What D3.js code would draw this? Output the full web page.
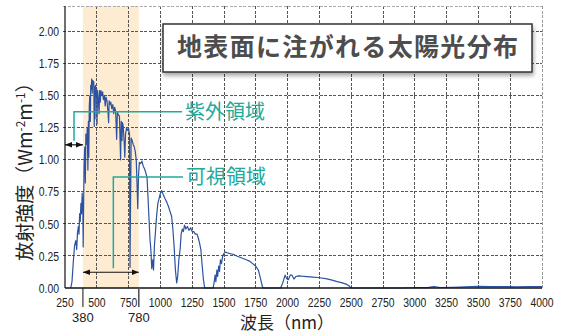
<!DOCTYPE html>
<html>
<head>
<meta charset="utf-8">
<script src="https://cdn.jsdelivr.net/npm/d3@7"></script>
<style>
  body { margin: 0; background: #fff; }
  svg { display: block; }
</style>
</head>
<body>
<svg id="chart" width="561" height="334"></svg>
<script>
// spectrum: [wavelength nm, W m-2 nm-1]
var spectrum = [
  [295, 0], [305, 0.05], [315, 0.2], [325, 0.33], [335, 0.37], [342, 0.3], [348, 0.43],
  [355, 0.48], [360, 0.42], [365, 0.58], [370, 0.52], [375, 0.66], [380, 0.58], [385, 0.74],
  [390, 0.62], [393, 0.32], [397, 0.72], [400, 0.96], [405, 1.1], [410, 0.82], [414, 1.2],
  [420, 1.12], [425, 1.25], [430, 0.92], [434, 1.3], [437, 1.02], [441, 1.42], [445, 1.5],
  [449, 1.3], [452, 1.58], [456, 1.55], [460, 1.63], [464, 1.52], [468, 1.62], [472, 1.58],
  [476, 1.61], [480, 1.26], [483, 1.57], [486, 1.32], [490, 1.58], [495, 1.52], [498, 1.56],
  [502, 1.28], [506, 1.54], [510, 1.5], [518, 1.36], [522, 1.54], [527, 1.45], [532, 1.54],
  [540, 1.5], [546, 1.53], [552, 1.47], [560, 1.5], [566, 1.42], [572, 1.49], [580, 1.46],
  [589, 1.36], [593, 1.29], [597, 1.46], [602, 1.43], [610, 1.45], [618, 1.4], [626, 1.43],
  [633, 1.36], [640, 1.41], [648, 1.38], [656, 1.16], [662, 1.37], [670, 1.35], [678, 1.34],
  [687, 1.0], [692, 1.3], [698, 1.15], [702, 1.29], [708, 1.26], [716, 1.12], [720, 1.02],
  [726, 1.2], [734, 1.25], [742, 1.23], [750, 1.24], [757, 1.2], [761, 0.16], [765, 0.62],
  [770, 1.17], [778, 1.15], [786, 1.12], [795, 1.1], [803, 1.06], [810, 1.0], [816, 0.82],
  [822, 0.62], [828, 0.88], [835, 0.98], [845, 0.97], [855, 0.99], [865, 0.95], [875, 0.93],
  [885, 0.9], [895, 0.86], [902, 0.72], [910, 0.55], [918, 0.38], [925, 0.3], [932, 0.15],
  [940, 0.22], [946, 0.14], [953, 0.33], [962, 0.45], [970, 0.56], [980, 0.66], [990, 0.7],
  [1000, 0.74], [1010, 0.76], [1022, 0.73], [1035, 0.7], [1050, 0.67], [1062, 0.64],
  [1075, 0.6], [1088, 0.56], [1098, 0.46], [1108, 0.32], [1118, 0.14], [1128, 0.04],
  [1136, 0.09], [1145, 0.22], [1155, 0.3], [1163, 0.42], [1172, 0.46], [1180, 0.44],
  [1190, 0.49], [1200, 0.46], [1212, 0.48], [1225, 0.45], [1238, 0.47], [1250, 0.44],
  [1262, 0.44], [1275, 0.42], [1288, 0.42], [1298, 0.39], [1308, 0.35], [1318, 0.3],
  [1328, 0.18], [1338, 0.07], [1348, 0], [1415, 0], [1423, 0.05], [1430, 0.1], [1436, 0.05],
  [1444, 0.14], [1450, 0.09], [1458, 0.17], [1465, 0.13], [1472, 0.22], [1480, 0.19],
  [1490, 0.25], [1500, 0.27], [1512, 0.28], [1525, 0.275], [1540, 0.27], [1560, 0.265],
  [1580, 0.26], [1600, 0.25], [1625, 0.24], [1650, 0.23], [1675, 0.22], [1700, 0.21],
  [1725, 0.19], [1750, 0.17], [1770, 0.14], [1788, 0.07], [1802, 0.01], [1810, 0],
  [1945, 0], [1962, 0.04], [1980, 0.1], [1995, 0.07], [2006, 0.065], [2020, 0.1],
  [2034, 0.1], [2050, 0.07], [2066, 0.09], [2085, 0.095], [2110, 0.092], [2150, 0.089],
  [2200, 0.085], [2250, 0.08], [2300, 0.073], [2350, 0.062], [2390, 0.05], [2430, 0.04],
  [2460, 0.03], [2480, 0.02], [2498, 0], [2900, 0], [2960, 0.002], [3020, 0.004],
  [3100, 0.003], [3150, 0.01], [3200, 0.004], [3300, 0.006], [3400, 0.009], [3500, 0.012],
  [3600, 0.01], [3700, 0.011], [3800, 0.009], [3900, 0.01], [4000, 0.01]
];

var xTicks = d3.range(250, 4001, 250);
var yTicks = [0, 0.25, 0.5, 0.75, 1.0, 1.25, 1.5, 1.75, 2.0];

// visible band edges as drawn, and the numbers printed under them
var bandEdges = [391, 830];
var bandLabels = ["380", "780"];

var title = "地表面に注がれる太陽光分布";
var uvLabel = "紫外領域";
var visLabel = "可視領域";

var svg = d3.select("#chart");
var plotL = 65, plotR = 542, plotT = 6, plotB = 288;

var x = d3.scaleLinear().domain([250, 4000]).range([plotL, plotR]);
var y = d3.scaleLinear().domain([0, 2.2]).range([plotB, plotT]);

var defs = svg.append("defs");
var shadow = defs.append("filter").attr("id", "shadow")
  .attr("x", "-10%").attr("y", "-20%").attr("width", "120%").attr("height", "160%");
shadow.append("feDropShadow").attr("dx", 1).attr("dy", 3)
  .attr("stdDeviation", 2).attr("flood-color", "#000").attr("flood-opacity", 0.35);

function arrowHead(id, orient) {
  defs.append("marker").attr("id", id)
    .attr("viewBox", "0 0 10 10").attr("refX", 10).attr("refY", 5)
    .attr("markerWidth", 7).attr("markerHeight", 7)
    .attr("orient", orient).attr("markerUnits", "userSpaceOnUse")
    .append("path").attr("d", "M0,1 L10,5 L0,9 Z").attr("fill", "#111");
}
arrowHead("ah", "auto");
arrowHead("ahs", "auto-start-reverse");

// visible band
svg.append("rect")
  .attr("x", x(bandEdges[0])).attr("y", plotT)
  .attr("width", x(bandEdges[1]) - x(bandEdges[0]))
  .attr("height", plotB - plotT)
  .attr("fill", "#fdebd2");

// grid
var grid = svg.append("g").attr("stroke", "#555").attr("stroke-width", 1)
  .attr("stroke-dasharray", "3,1.5").attr("shape-rendering", "crispEdges");
grid.selectAll("line.v").data(xTicks.slice(1)).enter().append("line")
  .attr("x1", d => x(d)).attr("x2", d => x(d))
  .attr("y1", plotT).attr("y2", plotB)
  .attr("stroke", d => d === 4000 ? "#999" : null);
grid.selectAll("line.h").data(yTicks.slice(1).concat([2.2])).enter().append("line")
  .attr("x1", plotL - 2).attr("x2", plotR)
  .attr("y1", d => y(d)).attr("y2", d => y(d))
  .attr("stroke", d => d === 2.2 ? "#aaa" : null)
  .attr("stroke-dasharray", d => d === 2.2 ? null : "3,1.5");

// spectrum
var line = d3.line().x(d => x(d[0])).y(d => y(d[1]));
svg.append("path").datum(spectrum)
  .attr("d", line)
  .attr("fill", "none")
  .attr("stroke", "#2c52a0")
  .attr("stroke-width", 1.2)
  .attr("stroke-linejoin", "round");

// axes
svg.append("line").attr("x1", plotL).attr("x2", plotL).attr("y1", plotT).attr("y2", plotB)
  .attr("stroke", "#111").attr("stroke-width", 1.2);
svg.append("line").attr("x1", plotL).attr("x2", plotR).attr("y1", plotB).attr("y2", plotB)
  .attr("stroke", "#111").attr("stroke-width", 1.5);

// tick labels: condensed look by squeezing horizontally
var tickFont = "'Liberation Sans', sans-serif";
svg.append("g").selectAll("text").data(xTicks).enter().append("text")
  .attr("transform", d => `translate(${x(d)},306.5) scale(0.8,1)`)
  .attr("text-anchor", "middle")
  .attr("font-family", tickFont).attr("font-size", 13).attr("fill", "#222")
  .text(d => d);
svg.append("g").selectAll("text").data(yTicks).enter().append("text")
  .attr("transform", d => `translate(59,${y(d) + 4.6}) scale(0.8,1)`)
  .attr("text-anchor", "end")
  .attr("font-family", tickFont).attr("font-size", 13).attr("fill", "#222")
  .text(d => d.toFixed(2));

// 380 / 780 markers
var marks = svg.append("g");
marks.selectAll("line").data(bandEdges).enter().append("line")
  .attr("x1", d => x(d)).attr("x2", d => x(d))
  .attr("y1", plotB).attr("y2", 307)
  .attr("stroke", (d, i) => i ? "#555" : "#111")
  .attr("stroke-width", (d, i) => i ? 1.6 : 1);
marks.selectAll("text").data(bandEdges).enter().append("text")
  .attr("x", d => x(d)).attr("y", 322)
  .attr("text-anchor", "middle")
  .attr("font-family", "'Liberation Sans', sans-serif").attr("font-size", 13)
  .attr("fill", "#222")
  .text((d, i) => bandLabels[i]);

// axis titles
var cjk = "'Noto Sans CJK JP', sans-serif";
svg.append("text")
  .attr("x", 287).attr("y", 329)
  .attr("text-anchor", "middle")
  .attr("font-family", cjk).attr("font-size", 17).attr("fill", "#222")
  .text("波長（nm）");

var yl = svg.append("text")
  .attr("transform", "translate(32,167) rotate(-90)")
  .attr("text-anchor", "middle")
  .attr("font-family", cjk).attr("font-size", 19).attr("fill", "#222");
yl.append("tspan").text("放射強度（Wm");
yl.append("tspan").attr("dy", -7).attr("font-size", 12).text("-2");
yl.append("tspan").attr("dy", 7).text("m");
yl.append("tspan").attr("dy", -7).attr("font-size", 12).text("-1");
yl.append("tspan").attr("dy", 7).text("）");

// range arrows
function rangeArrow(x0, x1, v) {
  svg.append("line")
    .attr("x1", x(x0)).attr("x2", x(x1)).attr("y1", y(v)).attr("y2", y(v))
    .attr("stroke", "#111").attr("stroke-width", 1.2)
    .attr("marker-start", "url(#ahs)").attr("marker-end", "url(#ah)");
}
rangeArrow(250, bandEdges[0], 1.117);
rangeArrow(bandEdges[0], bandEdges[1], 0.123);

// teal callouts
var teal = "#22a99a";
function callout(px, v0, v1, px1, label) {
  svg.append("path")
    .attr("d", d3.line()([[x(px), y(v0)], [x(px), y(v1)], [x(px1), y(v1)]]))
    .attr("fill", "none").attr("stroke", teal).attr("stroke-width", 1.5);
  svg.append("text")
    .attr("x", x(px1) + 3).attr("y", y(v1) + 7)
    .attr("font-family", cjk).attr("font-size", 20).attr("fill", teal)
    .text(label);
}
callout(321, 1.148, 1.375, 1170, uvLabel);
callout(630, 0.154, 0.866, 1178, visLabel);

// title box
svg.append("rect")
  .attr("x", 163).attr("y", 24).attr("width", 369).attr("height", 48)
  .attr("fill", "#fff").attr("stroke", "#333").attr("stroke-width", 1.5)
  .attr("filter", "url(#shadow)");
svg.append("text")
  .attr("x", 177).attr("y", 56)
  .attr("font-family", cjk).attr("font-size", 25).attr("font-weight", "bold")
  .attr("textLength", 341).attr("lengthAdjust", "spacing")
  .attr("fill", "#4d4d4d")
  .text(title);
</script>
</body>
</html>
